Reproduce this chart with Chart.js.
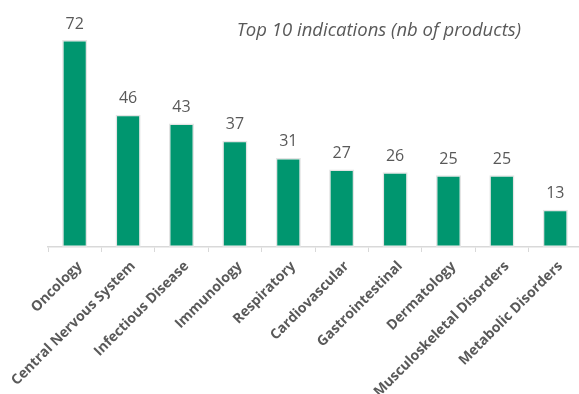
<!DOCTYPE html>
<html>
<head>
<meta charset="utf-8">
<script src="https://cdn.jsdelivr.net/npm/chart.js@4/dist/chart.umd.min.js"></script>
<style>
  html, body { margin: 0; padding: 0; background: #fff; overflow: hidden; }
  #wrap { position: relative; width: 584px; height: 394px; }
</style>
</head>
<body>
<div id="wrap"><canvas id="chart"></canvas></div>
<script>
const indications = [
  "Oncology", "Central Nervous System", "Infectious Disease", "Immunology",
  "Respiratory", "Cardiovascular", "Gastrointestinal", "Dermatology",
  "Musculoskeletal Disorders", "Metabolic Disorders"
];
const productCounts = [72, 46, 43, 37, 31, 27, 26, 25, 25, 13];
const chartTitle = "Top 10 indications (nb of products)";

const GREEN = "#00966F";
const GREY_TEXT = "#595959";
const AXIS_GREY = "#d9d9d9";

// value above each bar plus the floating italic title
const labelsPlugin = {
  id: "barLabels",
  afterDatasetsDraw(chart) {
    const ctx = chart.ctx;
    const meta = chart.getDatasetMeta(0);
    ctx.save();
    ctx.fillStyle = GREY_TEXT;
    ctx.font = "16px 'Open Sans'";
    ctx.textAlign = "center";
    ctx.textBaseline = "bottom";
    meta.data.forEach((bar, i) => {
      ctx.fillText(productCounts[i], bar.x, bar.y - 8);
    });
    ctx.font = "italic 18.5px 'Open Sans'";
    ctx.textAlign = "right";
    ctx.textBaseline = "middle";
    ctx.fillText(chartTitle, 521, 31);
    ctx.restore();
  }
};

const ctx = document.getElementById("chart").getContext("2d");
new Chart(ctx, {
  type: "bar",
  data: {
    labels: indications,
    datasets: [{
      data: productCounts,
      backgroundColor: GREEN,
      borderColor: "#e4e4e4",
      borderWidth: 1.5,
      borderSkipped: false,
      barPercentage: 0.47,
      categoryPercentage: 1
    }]
  },
  options: {
    responsive: true,
    maintainAspectRatio: false,
    animation: false,
    layout: { padding: { top: 17, left: 48, right: 2, bottom: 0 } },
    plugins: {
      legend: { display: false },
      title: { display: false },
      tooltip: { enabled: false }
    },
    scales: {
      x: {
        afterFit(scale) { scale.height = 147; },
        grid: {
          offset: true,
          drawOnChartArea: false,
          drawTicks: true,
          tickLength: 5,
          color: AXIS_GREY
        },
        border: { color: AXIS_GREY, width: 1.5 },
        ticks: {
          minRotation: 45,
          maxRotation: 45,
          autoSkip: false,
          color: GREY_TEXT,
          padding: 6,
          labelOffset: 5,
          font: { family: "'Open Sans'", size: 14, weight: "700" }
        }
      },
      y: {
        display: false,
        min: 0,
        max: 80
      }
    }
  },
  plugins: [labelsPlugin]
});
</script>
</body>
</html>
